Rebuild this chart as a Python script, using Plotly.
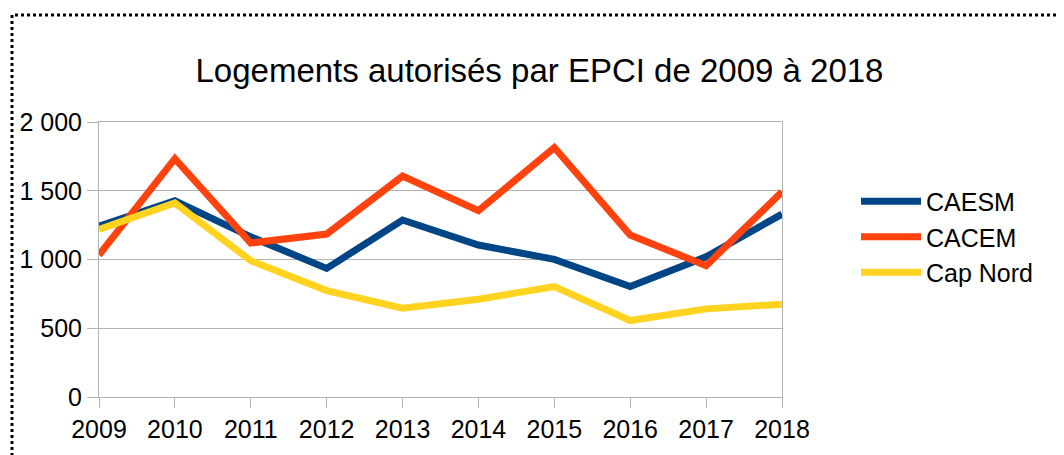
import plotly.graph_objects as go

years = [2009, 2010, 2011, 2012, 2013, 2014, 2015, 2016, 2017, 2018]
caesm = [1243, 1427, 1165, 935, 1287, 1105, 1001, 803, 1020, 1330]
cacem = [1033, 1734, 1120, 1185, 1606, 1355, 1814, 1178, 955, 1492]
cap_nord = [1219, 1412, 991, 774, 646, 711, 803, 556, 641, 675]

series = [("CAESM", caesm, "#004586"), ("CACEM", cacem, "#ff420e"), ("Cap Nord", cap_nord, "#ffd320")]
y_ticks = [0, 500, 1000, 1500, 2000]
y_labels = ["0", "500", "1 000", "1 500", "2 000"]

FONT = "Liberation Sans, Arial, sans-serif"
GRID = "#b3b3b3"

fig = go.Figure()
for name, vals, color in series:
    fig.add_trace(go.Scatter(x=years, y=vals, name=name, mode="lines",
                             line=dict(color=color, width=7)))

# page has an 8px body margin; figure sized to fit the window
OFF = 8
W, H = 1064 - OFF, 455 - OFF
L, T = 99 - OFF, 122 - OFF
R = W - (782 - OFF)
B = H - (397 - OFF)
pw = W - L - R
ph = H - T - B

fig.update_layout(
    width=W, height=H,
    margin=dict(l=L, r=R, t=T, b=B),
    paper_bgcolor="white", plot_bgcolor="white",
    font=dict(family=FONT, color="black", size=25),
    title=dict(text="Logements autorisés par EPCI de 2009 à 2018",
               x=(539.5 - OFF) / W, xanchor="center", y=1 - (70 - OFF) / H, yanchor="middle",
               font=dict(size=33, family=FONT, color="black")),
    legend=dict(x=(856 - OFF - L) / pw, xanchor="left", y=(H - B - (237 - OFF)) / ph, yanchor="middle",
                font=dict(size=25, family=FONT), itemwidth=60, tracegroupgap=0,
                bgcolor="rgba(0,0,0,0)"),
    showlegend=True,
)
fig.update_xaxes(range=[2009, 2018], tickmode="array", tickvals=years,
                 ticktext=[str(y) for y in years],
                 showgrid=False, showline=True, linecolor=GRID, linewidth=1, mirror=True,
                 ticks="outside", ticklen=10, tickcolor=GRID, tickwidth=1,
                 tickfont=dict(size=25), zeroline=False)
fig.update_yaxes(range=[0, 2000], tickmode="array", tickvals=y_ticks, ticktext=y_labels,
                 showgrid=True, gridcolor=GRID, gridwidth=1,
                 showline=True, linecolor=GRID, linewidth=1, mirror=True,
                 ticks="outside", ticklen=11, tickcolor=GRID, tickwidth=1,
                 tickfont=dict(size=25), zeroline=False)

# dotted frame around chart (extends past right/bottom of the window)
fig.add_shape(type="rect", xref="paper", yref="paper",
              x0=(12 - OFF - L) / pw, x1=(W + 40 - L) / pw,
              y0=-(B + 40) / ph, y1=(H - B - (15 - OFF)) / ph,
              line=dict(color="black", width=3, dash="dot"), layer="above")

fig.write_html("out.html")
